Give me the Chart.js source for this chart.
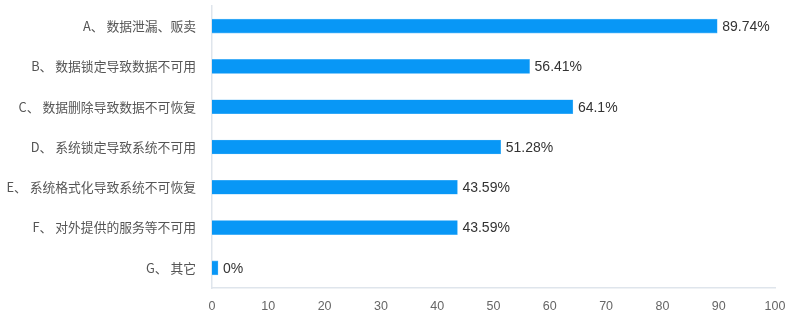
<!DOCTYPE html>
<html>
<head>
<meta charset="utf-8">
<script src="https://cdn.jsdelivr.net/npm/chart.js@4/dist/chart.umd.min.js"></script>
<style>
  html, body { margin: 0; padding: 0; background: #fff; }
  #wrap { width: 795px; height: 323px; }
</style>
</head>
<body>
<div id="wrap"><canvas id="c" width="795" height="323"></canvas></div>
<script>
// Survey options (categories) and share of respondents (percent)
const categories = [
  'A、 数据泄漏、贩卖',
  'B、 数据锁定导致数据不可用',
  'C、 数据删除导致数据不可恢复',
  'D、 系统锁定导致系统不可用',
  'E、 系统格式化导致系统不可恢复',
  'F、 对外提供的服务等不可用',
  'G、 其它'
];
const percentages = [89.74, 56.41, 64.1, 51.28, 43.59, 43.59, 0];
const xTicks = [0, 10, 20, 30, 40, 50, 60, 70, 80, 90, 100];

const BAR_BLUE = '#0897f6';
const CJK = '"Noto Sans CJK SC", "Noto Sans", sans-serif';
const LATIN = '"Liberation Sans", Arial, sans-serif';

// Writes "<value>%" just past the end of every bar
const valueLabels = {
  id: 'valueLabels',
  afterDatasetsDraw(chart) {
    const ctx = chart.ctx;
    const meta = chart.getDatasetMeta(0);
    ctx.save();
    ctx.font = '14px ' + LATIN;
    ctx.fillStyle = '#333';
    ctx.textAlign = 'left';
    ctx.textBaseline = 'middle';
    meta.data.forEach((bar, i) => {
      ctx.fillText(percentages[i] + '%', bar.x + 5, bar.y + 1);
    });
    ctx.restore();
  }
};

new Chart(document.getElementById('c'), {
  type: 'bar',
  data: {
    labels: categories,
    datasets: [{
      data: percentages,
      backgroundColor: BAR_BLUE,
      borderColor: '#5ab8f8',
      borderWidth: 0.6,
      barThickness: 14,
      minBarLength: 6
    }]
  },
  options: {
    indexAxis: 'y',
    responsive: false,
    animation: false,
    devicePixelRatio: 1,
    layout: { padding: { top: 6, right: 20, left: 0, bottom: 0 } },
    plugins: { legend: { display: false }, tooltip: { enabled: false } },
    scales: {
      x: {
        min: 0,
        max: 100,
        afterBuildTicks(scale) { scale.ticks = xTicks.map(v => ({ value: v })); },
        afterFit(scale) {
          scale.height = 35;
          scale.paddingLeft = 0;
          scale.paddingRight = 0;
        },
        grid: { display: false, drawTicks: false },
        border: { display: true, color: '#dfe5ec', width: 1.5 },
        ticks: {
          color: '#666',
          padding: 11,
          font: { family: LATIN, size: 12.5 },
          maxRotation: 0
        }
      },
      y: {
        afterFit(scale) {
          scale.width = 212;
          scale.paddingTop = 0;
          scale.paddingBottom = 0;
        },
        grid: { display: false, drawTicks: false },
        border: { display: true, color: '#dfe5ec', width: 1.5 },
        ticks: {
          color: '#555',
          padding: 16,
          font: { family: CJK, size: 12.8 }
        }
      }
    }
  },
  plugins: [valueLabels]
});
</script>
</body>
</html>
